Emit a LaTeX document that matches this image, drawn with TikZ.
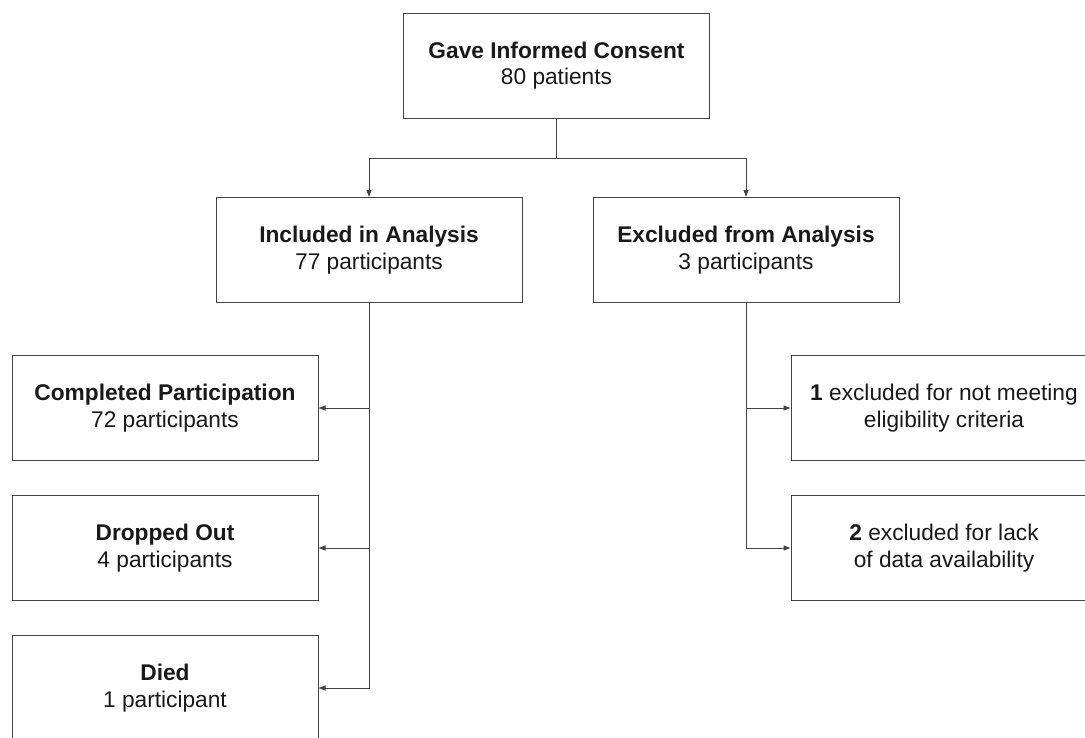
\documentclass[tikz,border=0pt]{standalone}
\usepackage{fontspec}
\setmainfont{Liberation Sans}
\usetikzlibrary{calc, positioning}
\usetikzlibrary{arrows.meta}

\begin{document}
\begin{tikzpicture}[x=1pt,y=-1pt,
  stagebox/.style={draw=linegray,line width=1pt,minimum width=306pt,
    minimum height=105pt,align=center,text=black!90,
    font=\fontsize{22.7}{26.5}\selectfont},
  flowline/.style={draw=linegray,line width=1pt},
  flowarrow/.style={flowline,-{Triangle[length=7pt,width=5pt]}}]
\definecolor{linegray}{RGB}{68,68,68}

% Page of the reference; the right-hand boxes run past its edge.
\clip (0,0) rectangle (1085,737);

% Top of the flow.
\node[stagebox] (consent) at (556.5,65.5)
  {\textbf{Gave Informed Consent}\\80 patients};

% Split into analysis groups.
\node[stagebox] (included) at (369,250)
  {\textbf{Included in Analysis}\\77 participants};
\node[stagebox] (excluded) at (746,250)
  {\textbf{Excluded from Analysis}\\3 participants};

% Outcomes of the included group.
\node[stagebox] (completed) at (165,408)
  {\textbf{Completed Participation}\\72 participants};
\node[stagebox] (dropped) at (165,548)
  {\textbf{Dropped Out}\\4 participants};
\node[stagebox] (died) at (165,688)
  {\textbf{Died}\\1 participant};

% Reasons for exclusion.
\node[stagebox] (noteligible) at (944,408)
  {\textbf{1} excluded for not meeting\\eligibility criteria};
\node[stagebox] (nodata) at (944,548)
  {\textbf{2} excluded for lack\\of data availability};

% Connectors.
\coordinate (split) at (556.5,158);
\draw[flowline] (consent.south) -- (split);
\draw[flowarrow] (split) -| (included.north);
\draw[flowarrow] (split) -| (excluded.north);

\draw[flowarrow] (included.south) |- (died.east);
\draw[flowarrow] (included.south |- completed.east) -- (completed.east);
\draw[flowarrow] (included.south |- dropped.east) -- (dropped.east);

\draw[flowarrow] (excluded.south) |- (nodata.west);
\draw[flowarrow] (excluded.south |- noteligible.west) -- (noteligible.west);
\end{tikzpicture}
\end{document}
